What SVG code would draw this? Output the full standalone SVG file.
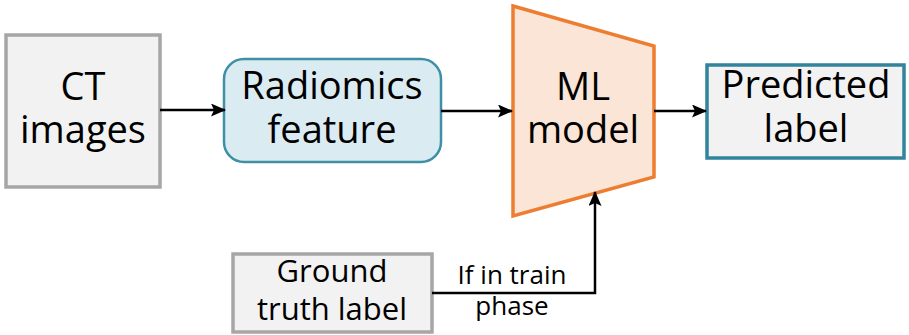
<svg xmlns="http://www.w3.org/2000/svg" width="909" height="335" viewBox="0 0 909 335">
<style>
text{font-family:"Open Sans","Noto Sans",sans-serif;fill:#000;text-anchor:middle}
.big{font-size:38px}
.mid{font-size:31px}
.sm{font-size:26px}
.edge{fill:none;stroke:#000;stroke-width:2.5}
</style>
<defs>
<marker id="ah" markerWidth="15" markerHeight="13" refX="14" refY="6.5" orient="auto" markerUnits="userSpaceOnUse">
<path d="M0,0 L15,6.5 L0,13 L3,6.5 Z" fill="#000"/>
</marker>
</defs>
<rect width="909" height="335" fill="#fff"/>
<g id="ct">
<rect x="6" y="35" width="154" height="152" fill="#f2f2f2" stroke="#a6a6a6" stroke-width="3.5"/>
<text class="big" x="83" y="100">CT</text>
<text class="big" x="83" y="143">images</text>
</g>
<g id="radiomics">
<rect x="224" y="59" width="217" height="103" rx="20" fill="#daebf2" stroke="#3f8fa5" stroke-width="2.5"/>
<text class="big" x="332" y="99">Radiomics</text>
<text class="big" x="332" y="143">feature</text>
</g>
<g id="ml">
<polygon points="513,6 654,46 654,177 513,216" fill="#fbe5d6" stroke="#ed7d31" stroke-width="3.5"/>
<text class="big" x="583" y="100">ML</text>
<text class="big" x="583" y="143">model</text>
</g>
<g id="predicted">
<rect x="707" y="65" width="197" height="93" fill="#f2f2f2" stroke="#31849b" stroke-width="3.5"/>
<text class="big" x="806" y="98">Predicted</text>
<text class="big" x="806" y="142">label</text>
</g>
<g id="groundtruth">
<rect x="233" y="254" width="199" height="78" fill="#f2f2f2" stroke="#a6a6a6" stroke-width="3.5"/>
<text class="mid" x="332" y="282">Ground</text>
<text class="mid" x="332" y="320">truth label</text>
</g>
<g id="connectors">
<line class="edge" x1="160" y1="110" x2="225" y2="110" marker-end="url(#ah)"/>
<line class="edge" x1="441" y1="111" x2="512" y2="111" marker-end="url(#ah)"/>
<line class="edge" x1="654" y1="111" x2="706" y2="111" marker-end="url(#ah)"/>
<polyline class="edge" points="432,293 595,293 595,192" marker-end="url(#ah)"/>
<text class="sm" x="512" y="284">If in train</text>
<text class="sm" x="512" y="315">phase</text>
</g>
</svg>
